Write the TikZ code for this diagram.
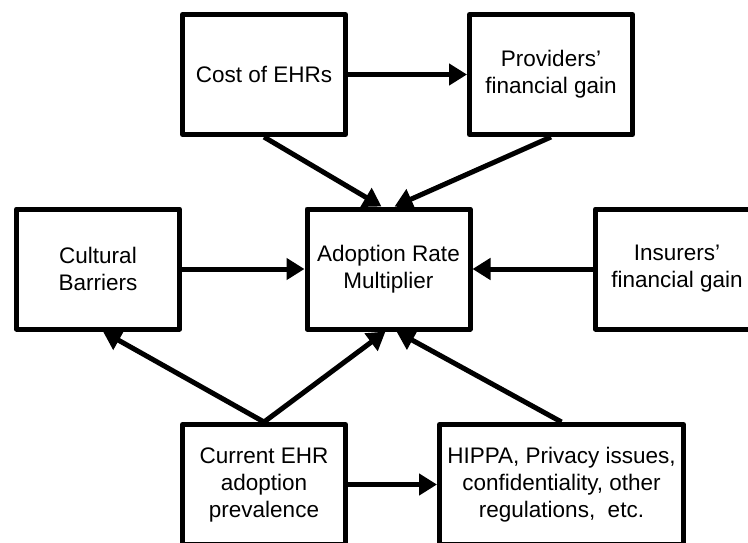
\documentclass[tikz,border=0pt]{standalone}
\usepackage{fontspec}
\setmainfont{Liberation Sans}
\usetikzlibrary{arrows.meta}
\begin{document}
\begin{tikzpicture}[x=1pt,y=-1pt,
  box/.style={draw, line width=5pt, line join=round, minimum width=163pt,
    minimum height=120pt, align=center, inner sep=0pt,
    font=\fontsize{22.5}{27}\selectfont},
  arr/.style={line width=5pt, -{Triangle[length=18pt,width=21pt]}}]
\useasboundingbox (0,0) rectangle (748,542);
\node[box] (cost) at (264,74.5) {Cost of EHRs};
\node[box] (prov) at (551,74.5) {Providers'\\financial gain};
\node[box] (cult) at (98,269) {Cultural\\Barriers};
\node[box] (adop) at (388.5,269) {Adoption Rate\\Multiplier};
\node[box] (ins) at (677,269) {Insurers'\\financial gain};
\node[box] (cur) at (264,484.5) {Current EHR\\adoption\\prevalence};
\node[box, minimum width=244pt] (hip) at (561.5,484.5) {HIPPA, Privacy issues,\\confidentiality, other\\regulations,\ \ etc.};
\draw[arr] (cost) -- (prov);
\draw[arr] (cost.south) -- ([xshift=-7pt]adop.north);
\draw[arr] (prov.south) -- ([xshift=6pt]adop.north);
\draw[arr] (cult) -- (adop);
\draw[arr] (ins) -- (adop);
\draw[arr] (cur.north) -- ([xshift=5pt]cult.south);
\draw[arr] (cur.north) -- ([xshift=-3pt]adop.south);
\draw[arr] (hip.north) -- ([xshift=8pt]adop.south);
\draw[arr] (cur) -- (hip);
\end{tikzpicture}
\end{document}
